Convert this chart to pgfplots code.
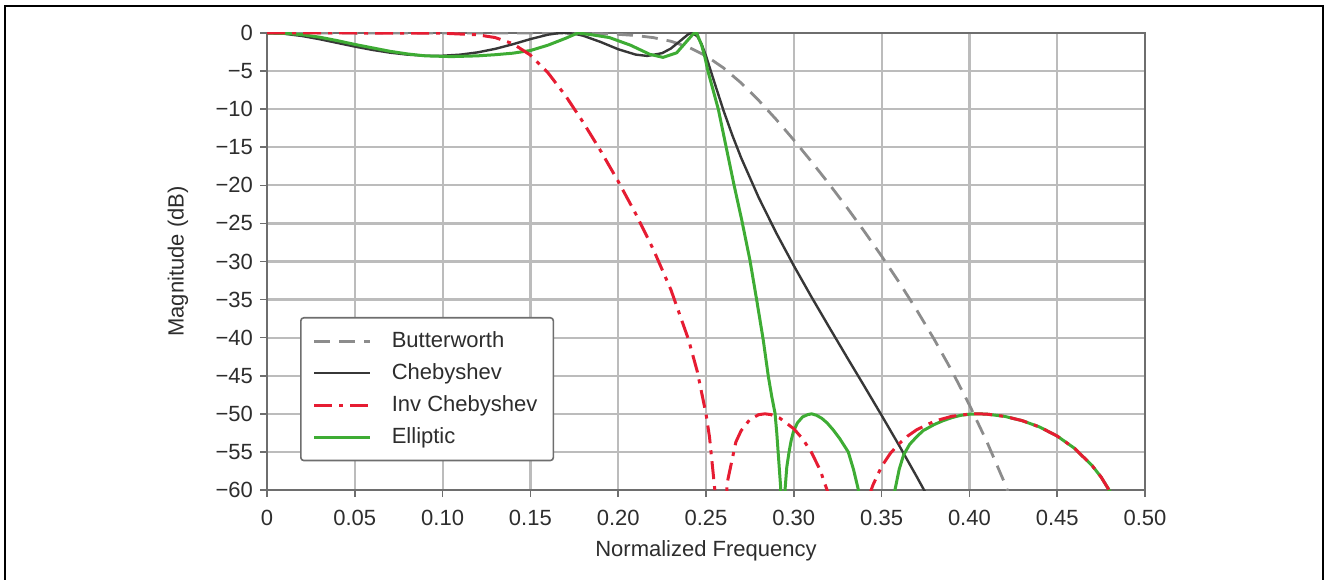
\documentclass[border=0pt]{standalone}
\usepackage{pgfplots}
\pgfplotsset{compat=1.18}
\usepackage{fontspec}
\setmainfont{Liberation Sans}
\definecolor{bwc}{RGB}{140,140,140}
\definecolor{chc}{RGB}{55,55,55}
\definecolor{icc}{RGB}{230,28,50}
\definecolor{elc}{RGB}{62,172,52}
\definecolor{gridc}{RGB}{188,188,188}
\definecolor{axc}{RGB}{110,110,110}
\definecolor{txc}{RGB}{45,45,45}
\pgfplotsset{
 bwsty/.style={color=bwc, line width=1.4pt, dash pattern=on 8pt off 4.5pt, mark=none},
 chsty/.style={color=chc, line width=1.2pt, mark=none, line join=round},
 icsty/.style={color=icc, line width=1.5pt, dash pattern=on 9pt off 3.5pt on 2pt off 3.5pt, mark=none, line join=round},
 elsty/.style={color=elc, line width=1.5pt, mark=none, line join=round},
}
\begin{document}
\begin{tikzpicture}
\useasboundingbox (0pt,0pt) rectangle (663pt,289.5pt);
\draw[line width=1.1pt,black] (2.5pt,-3pt) -- (2.5pt,286.5pt) -- (661.5pt,286.5pt) -- (661.5pt,-3pt);
\begin{axis}[
 at={(133.5pt,44.5pt)}, anchor=south west,
 scale only axis, width=439pt, height=228.5pt,
 xmin=0, xmax=0.5, ymin=-60, ymax=0,
 xtick={0,0.05,0.1,0.15,0.2,0.25,0.3,0.35,0.4,0.45,0.5},
 xticklabels={0,0.05,0.10,0.15,0.20,0.25,0.30,0.35,0.40,0.45,0.50},
 ytick={-60,-55,-50,-45,-40,-35,-30,-25,-20,-15,-10,-5,0},
 yticklabels={−60,−55,−50,−45,−40,−35,−30,−25,−20,−15,−10,−5,0},
 tick pos=left, tick align=outside, major tick length=3.5pt,
 tick style={axc, line width=0.8pt},
 axis line style={axc, line width=0.8pt},
 grid=major, major grid style={gridc, line width=1.1pt},
 every tick label/.append style={font=\fontsize{11}{13}\selectfont, text=txc},
 xticklabel style={yshift=-3pt},
 xlabel={Normalized Frequency}, ylabel={Magnitude (dB)},
 label style={font=\fontsize{11}{13}\selectfont, text=txc},
 xlabel style={at={(axis description cs:0.5,-0.1335)}, anchor=center},
 ylabel style={at={(axis description cs:-0.1014,0.5)}, anchor=center},
 legend cell align=left,
 legend style={at={(axis description cs:0.0376,0.3786)}, anchor=north west,
   draw=axc, line width=0.8pt, rounded corners=1.5pt, fill=white,
   font=\fontsize{11}{13}\selectfont, text=txc,
   inner xsep=6pt, inner ysep=5pt, row sep=2.5pt,
   /tikz/every odd column/.append style={column sep=8pt}},
 legend image code/.code={\draw[#1] (0pt,0pt) -- (28pt,0pt);},
]
\addlegendimage{bwsty}\addlegendentry{Butterworth}
\addlegendimage{chsty}\addlegendentry{Chebyshev}
\addlegendimage{icsty}\addlegendentry{Inv Chebyshev}
\addlegendimage{elsty}\addlegendentry{Elliptic}

% Butterworth
\addplot[bwsty, forget plot] coordinates {
(0,0) (0.05,0) (0.10,0) (0.15,-0.005) (0.18,-0.046) (0.20,-0.174) (0.21,-0.330)
(0.22,-0.607) (0.23,-1.084) (0.24,-1.857) (0.25,-3.010) (0.26,-4.588) (0.27,-6.556)
(0.28,-8.842) (0.29,-11.36) (0.30,-14.05) (0.31,-16.87) (0.32,-19.79) (0.33,-22.83)
(0.34,-26.00) (0.35,-29.29) (0.36,-32.74) (0.37,-36.38) (0.38,-40.24) (0.39,-44.36)
(0.40,-48.83) (0.41,-53.69) (0.42,-59.05) (0.43,-65.06)
};
% Chebyshev
\addplot[chsty, forget plot] coordinates {
(0,0) (0.01,-0.104) (0.02,-0.396) (0.03,-0.817) (0.04,-1.300) (0.05,-1.783) (0.06,-2.220)
(0.07,-2.581) (0.08,-2.840) (0.09,-2.98) (0.0954,-3.01) (0.10,-2.985) (0.11,-2.843)
(0.12,-2.541) (0.13,-2.082) (0.14,-1.476) (0.15,-0.801) (0.16,-0.221) (0.165,-0.049)
(0.169,0) (0.172,-0.025) (0.175,-0.100) (0.18,-0.352) (0.19,-1.180) (0.20,-2.133)
(0.21,-2.839) (0.2166,-3.01) (0.225,-2.647) (0.23,-2.036) (0.235,-1.098) (0.24,-0.142)
(0.242,0) (0.245,-0.418) (0.2475,-1.461) (0.25,-3.01) (0.255,-6.636) (0.26,-10.20)
(0.265,-13.43) (0.27,-16.38) (0.28,-21.60) (0.29,-26.25) (0.30,-30.55) (0.31,-34.63)
(0.32,-38.57) (0.33,-42.46) (0.34,-46.31) (0.35,-50.20) (0.36,-54.16) (0.37,-58.25)
(0.375,-60.35) (0.38,-62.49)
};
% Elliptic
\addplot[elsty, forget plot] coordinates {
(0,0) (0.01,-0.05) (0.02,-0.22) (0.03,-0.55) (0.04,-1.0) (0.05,-1.5) (0.06,-1.95)
(0.07,-2.4) (0.08,-2.75) (0.09,-3.0) (0.105,-3.1) (0.12,-3.0) (0.13,-2.85) (0.14,-2.65)
(0.15,-2.3) (0.16,-1.6) (0.17,-0.7) (0.177,0) (0.184,-0.2) (0.195,-0.6) (0.207,-1.6)
(0.218,-2.8) (0.2255,-3.2) (0.2333,-2.6) (0.239,-1.1) (0.2428,-0.1) (0.2447,0)
(0.2475,-1.6) (0.2494,-3.2) (0.2511,-5) (0.257,-10) (0.2615,-15) (0.266,-20)
(0.2703,-24.5) (0.275,-29.8) (0.2789,-35.1) (0.2826,-40.3) (0.2855,-45.1)
(0.2875,-47.8) (0.2893,-49.9) (0.2903,-52.5) (0.2911,-55.1) (0.2925,-59.6) (0.2938,-100)
(0.2950,-60) (0.2960,-57) (0.2973,-55) (0.2985,-53.5) (0.2997,-52.4) (0.302,-51.2)
(0.305,-50.4) (0.308,-50.1) (0.3102,-50) (0.313,-50.2) (0.316,-50.6) (0.319,-51.2)
(0.3224,-52.1) (0.326,-53.2) (0.331,-55) (0.334,-57.3) (0.3368,-60) (0.347,-100)
(0.3576,-60) (0.360,-57.3) (0.3625,-55.4) (0.366,-54.0) (0.370,-53.0) (0.3737,-52.2)
(0.380,-51.4) (0.385,-50.9) (0.390,-50.5) (0.395,-50.2) (0.400,-50.05) (0.405,-50.0)
(0.41,-50.04) (0.42,-50.33) (0.43,-50.89) (0.44,-51.73) (0.45,-52.92) (0.46,-54.55)
(0.47,-56.83) (0.475,-58.30) (0.48,-60.18) (0.49,-66.1)
};
% Inverse Chebyshev
\addplot[icsty, forget plot] coordinates {
(0,0) (0.05,0) (0.10,-0.029) (0.12,-0.237) (0.13,-0.603) (0.14,-1.404) (0.15,-2.900)
(0.16,-5.219) (0.17,-8.23) (0.18,-11.71) (0.19,-15.47) (0.20,-19.48) (0.21,-23.75)
(0.22,-28.41) (0.23,-33.70) (0.24,-40.22) (0.245,-44.41) (0.25,-50.0) (0.252,-53.05)
(0.255,-59.92) (0.258,-100) (0.262,-59.13) (0.267,-53.70) (0.27,-52.21) (0.275,-50.74)
(0.28,-50.11) (0.2835,-50.0) (0.287,-50.10) (0.292,-50.56) (0.30,-51.96) (0.305,-53.28)
(0.31,-55.04) (0.315,-57.38) (0.32,-60.71) (0.325,-66.34) (0.3309,-100) (0.335,-69.4)
(0.34,-62.80) (0.345,-59.38) (0.35,-56.91) (0.355,-55.18) (0.36,-53.91) (0.365,-52.89)
(0.37,-52.09) (0.38,-50.97) (0.39,-50.32) (0.40,-50.03) (0.4046,-50.0) (0.41,-50.04)
(0.42,-50.33) (0.43,-50.89) (0.44,-51.73) (0.45,-52.92) (0.46,-54.55) (0.47,-56.83)
(0.475,-58.30) (0.48,-60.18) (0.49,-66.1)
};
\end{axis}
\end{tikzpicture}
\end{document}
